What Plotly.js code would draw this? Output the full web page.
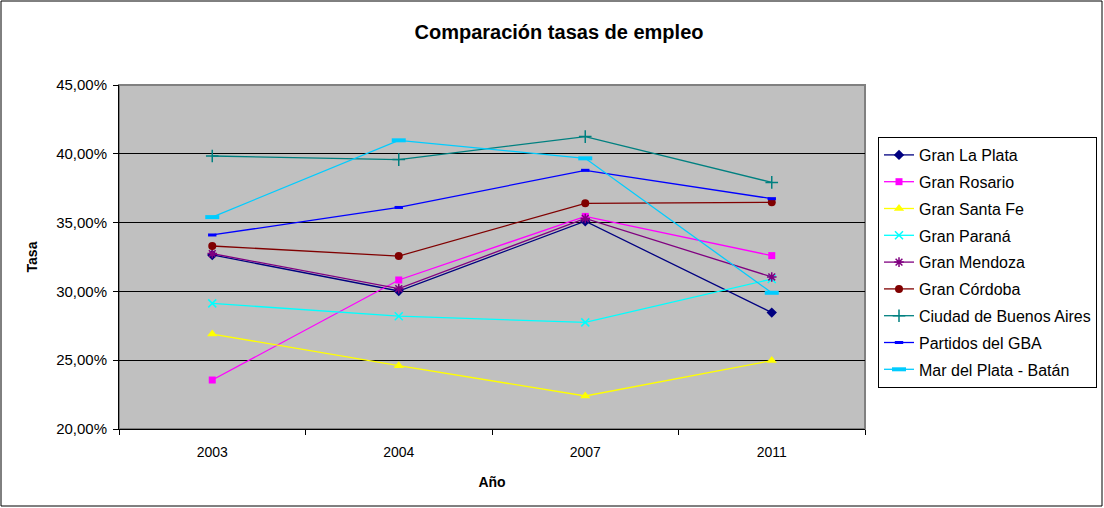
<!DOCTYPE html>
<html>
<head>
<meta charset="utf-8">
<script src="https://cdn.plot.ly/plotly-3.0.1.min.js"></script>
<style>
html,body{margin:0;padding:0;background:#fff;}
#chart{width:1104px;height:508px;}
</style>
</head>
<body>
<div id="chart"></div>
<script>
const years = ["2003", "2004", "2007", "2011"];
const granLaPlata = [32.65, 30.03, 35.10, 28.46];
const granRosario = [23.56, 30.83, 35.45, 32.60];
const granSantaFe = [26.90, 24.60, 22.40, 24.97];
const granParana = [29.13, 28.20, 27.75, 30.90];
const granMendoza = [32.75, 30.20, 35.30, 31.05];
const granCordoba = [33.30, 32.57, 36.40, 36.47];
const ciudadBsAs = [39.84, 39.58, 41.25, 37.92];
const partidosGBA = [34.10, 36.10, 38.80, 36.74];
const marDelPlata = [35.40, 40.98, 39.67, 29.90];
const seriesNames = ["Gran La Plata", "Gran Rosario", "Gran Santa Fe", "Gran Paraná", "Gran Mendoza", "Gran Córdoba", "Ciudad de Buenos Aires", "Partidos del GBA", "Mar del Plata - Batán"];
const yTicks = [20, 25, 30, 35, 40, 45];
const yTickLabels = ["20,00%", "25,00%", "30,00%", "35,00%", "40,00%", "45,00%"];

const values = [granLaPlata, granRosario, granSantaFe, granParana, granMendoza, granCordoba, ciudadBsAs, partidosGBA, marDelPlata];
const colors = ["#000080", "#FF00FF", "#FFFF00", "#00FFFF", "#800080", "#800000", "#008080", "#0000FF", "#00CCFF"];
const markers = [
  {symbol: "diamond", size: 8},
  {symbol: "square", size: 7},
  {symbol: "triangle-up", size: 9},
  {symbol: "x-thin-open", size: 8, line: {width: 1.5}},
  {symbol: "asterisk-open", size: 8, line: {width: 1.5}},
  {symbol: "circle", size: 8},
  {symbol: "cross-thin-open", size: 9, line: {width: 1.5}},
  {symbol: "line-ew-open", size: 6, line: {width: 3}},
  {symbol: "line-ew-open", size: 10, line: {width: 4}}
];

const traces = values.map((v, i) => {
  const m = Object.assign({color: colors[i]}, markers[i]);
  m.line = Object.assign({color: colors[i]}, markers[i].line || {width: 0});
  return {
    type: "scatter",
    mode: "lines+markers",
    name: seriesNames[i],
    x: years,
    y: v,
    line: {color: colors[i], width: 1.3},
    marker: m,
    legendgroup: "g" + i
  };
});

const L = 119, R = 865, T = 85, B = 429, W = 1104, H = 508;
const pw = R - L, ph = B - T;
const px = x => (x - L) / pw;
const py = y => (B - y) / ph;

const layout = {
  width: W, height: H,
  margin: {l: L, r: W - R, t: T, b: H - B, pad: 0, autoexpand: false},
  paper_bgcolor: "#ffffff",
  plot_bgcolor: "#C0C0C0",
  font: {family: "Liberation Sans, Arial, sans-serif", color: "#000", size: 14},
  title: {text: "<b>Comparación tasas de empleo</b>", font: {size: 20, color: "#000"}, x: 559 / W, xanchor: "center", xref: "container", y: 1 - 32 / H, yanchor: "middle", yref: "container"},
  xaxis: {
    type: "category",
    range: [-0.5, 3.5],
    showgrid: false,
    showline: true, linecolor: "#000", linewidth: 1,
    ticks: "outside", ticklen: 5, tickcolor: "#000", tickson: "boundaries",
    tickfont: {size: 14},
    ticklabelstandoff: 10,
    title: {text: "<b>Año</b>", font: {size: 14}, standoff: 18},
    zeroline: false, fixedrange: true
  },
  yaxis: {
    range: [20, 45],
    tickmode: "array",
    tickvals: yTicks,
    ticktext: yTickLabels,
    showgrid: true, gridcolor: "#000", gridwidth: 1,
    showline: true, linecolor: "#000", linewidth: 1,
    ticks: "outside", ticklen: 5, tickcolor: "#000",
    tickfont: {size: 15},
    ticklabelstandoff: 3,
    title: {text: "<b>Tasa</b>", font: {size: 14}, standoff: 15},
    zeroline: false, fixedrange: true
  },
  legend: {
    x: px(878), xanchor: "left",
    y: py(137), yanchor: "top",
    bgcolor: "#ffffff", bordercolor: "#000", borderwidth: 1,
    font: {size: 16, color: "#000"},
    tracegroupgap: 3,
    itemwidth: 30
  },
  showlegend: true,
  shapes: [
    {type: "rect", xref: "paper", yref: "paper", x0: 0, x1: 1, y0: 0, y1: 1, line: {color: "#808080", width: 2}, layer: "below"},
    {type: "rect", xref: "paper", yref: "paper", x0: px(1), x1: px(1102), y0: py(506), y1: py(1), line: {color: "#000", width: 1}}
  ]
};

Plotly.newPlot("chart", traces, layout, {displayModeBar: false, staticPlot: true});
</script>
</body>
</html>
